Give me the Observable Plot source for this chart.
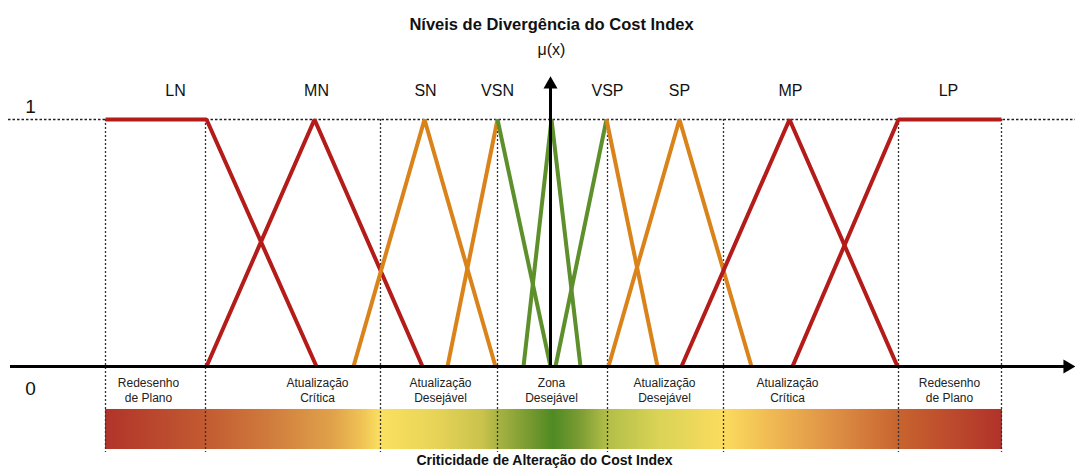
<!DOCTYPE html>
<html><head><meta charset="utf-8">
<script src="https://cdn.jsdelivr.net/npm/d3@7"></script>
<script src="https://cdn.jsdelivr.net/npm/@observablehq/plot@0.6"></script>
<style>body{margin:0;background:#fff} svg{display:block}</style>
</head><body><div id="chart"></div>
<script>
// ---- data (x in units of Cost Index divergence, 0 = target) ----
const setNames  = ["LN","MN","SN","VSN","VSP","SP","MP","LP"];
const setLabelX = [-37.5,-23.4,-12.5,-5.3,5.7,12.9,24.0,39.8];

const fnNames = ["LN","MN","SN","VSN","ZD","VSP","SP","MP","LP"];
const fnX = [
  [-44.5,-34.4,-23.4],
  [-34.4,-23.6,-12.8],
  [-19.7,-12.6,-5.5],
  [-10.3,-5.3,0.0],
  [-2.7,0.1,3.0],
  [0.5,5.6,10.7],
  [5.8,12.9,20.1],
  [13.1,23.9,34.7],
  [24.2,34.8,45.1]
];
const fnMu = [
  [1,1,0],[0,1,0],[0,1,0],[0,1,0],[0,1,0],[0,1,0],[0,1,0],[0,1,0],[0,1,1]
];
const fnSegLevel = [
  ["crit","crit"],["crit","crit"],["des","des"],["des","zone"],["zone","zone"],
  ["zone","des"],["des","des"],["crit","crit"],["crit","crit"]
];

const zoneNames  = ["Redesenho\nde Plano","Atualização\nCrítica","Atualização\nDesejável","Zona\nDesejável","Atualização\nDesejável","Atualização\nCrítica","Redesenho\nde Plano"];
const zoneLabelX = [-40.2,-23.3,-11.0,0.1,11.4,23.7,39.9];
const zoneBounds = [-44.5,-34.5,-17.0,-5.3,5.7,17.3,34.8,45.1];

const gradPos    = [-44.5,-34.6,-28.3,-21.7,-18.7,-17.0,-11.7,-6.7,-5.3,-1.7,0.3,3.0,5.7,10.7,17.3,22.3,29.0,34.8,45.2];
const gradColors = ["#b1342a","#c25a31","#cf7a3c","#e0a24a","#f0c456","#fbe05f","#e8d558","#c9c24c","#a9b443","#72972e","#4f8a23","#7c9c34","#b2be48","#d8d356","#fbdc5e","#f0b853","#dc8c43","#c8642f","#b1322a"];

const muTicks = [0, 1];
const title = "Níveis de Divergência do Cost Index";
const caption = "Criticidade de Alteração do Cost Index";

// ---- styles ----
const levelColor = {crit: "#b41c1a", des: "#d9831a", zone: "#5d8f2b"};
const font = "'Liberation Sans', Arial, Helvetica, sans-serif";

// build polylines: consecutive segments with same colour form one path
const paths = [];
fnX.forEach((xs, i) => {
  let id = 0, cur = null;
  for (let k = 0; k < xs.length - 1; k++) {
    const lvl = fnSegLevel[i][k];
    if (!cur || cur.lvl !== lvl) {
      cur = {lvl, key: fnNames[i] + "-" + (id++)};
      paths.push({key: cur.key, lvl, x: xs[k], mu: fnMu[i][k]});
    }
    paths.push({key: cur.key, lvl, x: xs[k+1], mu: fnMu[i][k+1]});
  }
});

function gradientDefs() {
  const ns = "http://www.w3.org/2000/svg";
  const defs = document.createElementNS(ns, "defs");
  const lg = document.createElementNS(ns, "linearGradient");
  lg.setAttribute("id", "ciGrad");
  lg.setAttribute("x1", "0"); lg.setAttribute("x2", "1");
  lg.setAttribute("y1", "0"); lg.setAttribute("y2", "0");
  const p0 = gradPos[0], p1 = gradPos[gradPos.length - 1];
  gradPos.forEach((p, i) => {
    const s = document.createElementNS(ns, "stop");
    s.setAttribute("offset", ((p - p0) / (p1 - p0)).toFixed(4));
    s.setAttribute("stop-color", gradColors[i]);
    lg.appendChild(s);
  });
  defs.appendChild(lg);
  return defs;
}

const chart = Plot.plot({
  width: 1075, height: 470,
  marginTop: 0, marginBottom: 0, marginLeft: 0, marginRight: 0,
  style: {fontFamily: font, background: "#fff", overflow: "visible"},
  x: {domain: [-54, 52.5], range: [10, 1075], axis: null},
  y: {domain: [0, 1], range: [366, 119], axis: null},
  marks: [
    gradientDefs,
    Plot.rect([{a: gradPos[0], b: gradPos[gradPos.length - 1]}],
      {x1: "a", x2: "b", y1: -0.174, y2: -0.336, fill: "url(#ciGrad)"}),
    Plot.ruleX(zoneBounds, {y1: 1, y2: -0.348, stroke: "#333", strokeWidth: 1.3, strokeDasharray: "2,2"}),
    Plot.ruleY([1], {x1: -54.2, x2: 52.5, stroke: "#222", strokeWidth: 1.4, strokeDasharray: "2.5,2"}),
    Plot.line(paths, {x: "x", y: "mu", z: "key", stroke: d => levelColor[d.lvl],
      strokeWidth: 4, strokeLinecap: "butt", strokeLinejoin: "miter", curve: "linear"}),
    // axes
    Plot.ruleY([0], {x1: -54, x2: 51.4, stroke: "#000", strokeWidth: 3}),
    Plot.dot([{x: 51.7, y: 0}], {x: "x", y: "y", symbol: "triangle", r: 5.2, rotate: 90, fill: "#000", stroke: null}),
    Plot.ruleX([0], {y1: 0, y2: 1.126, stroke: "#000", strokeWidth: 3}),
    Plot.dot([{x: 0, y: 1.142}], {x: "x", y: "y", symbol: "triangle", r: 5.2, fill: "#000", stroke: null}),
    // texts
    Plot.text(setNames, {x: (d, i) => setLabelX[i], y: 1.117, text: d => d, fontSize: 16, fill: "#111"}),
    Plot.text(["μ(x)"], {x: 0.1, y: 1.283, text: d => d, fontSize: 16, fill: "#111"}),
    Plot.text([muTicks[1]], {x: -52, y: d => d, dy: -13, text: d => String(d), fontSize: 19, fill: "#111"}),
    Plot.text([muTicks[0]], {x: -52, y: d => d, dy: 22, text: d => String(d), fontSize: 19, fill: "#111"}),
    Plot.text(zoneNames, {x: (d, i) => zoneLabelX[i], y: -0.094, text: d => d, fontSize: 12, lineHeight: 1.25, fill: "#222"}),
    Plot.text([title], {x: 0.1, frameAnchor: "top", dy: 18, text: d => d, fontSize: 16.5, fontWeight: "bold", fill: "#111"}),
    Plot.text([caption], {x: -0.6, frameAnchor: "bottom", dy: -6, text: d => d, fontSize: 14, fontWeight: "bold", fill: "#111"})
  ]
});
document.getElementById("chart").appendChild(chart);
</script>
</body></html>
